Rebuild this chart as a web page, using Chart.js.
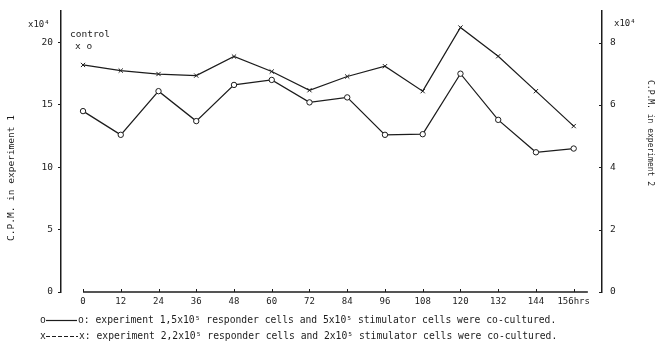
<!DOCTYPE html>
<html>
<head>
<meta charset="utf-8">
<script src="https://cdn.jsdelivr.net/npm/chart.js@4.4.0/dist/chart.umd.min.js"></script>
<style>
  html, body { margin: 0; padding: 0; background: #fff; }
  #wrap { width: 663px; height: 342px; position: relative; }
</style>
</head>
<body>
<div id="wrap"><canvas id="c" width="663" height="342"></canvas></div>
<script>
// ---- data ----
const hours = [0, 12, 24, 36, 48, 60, 72, 84, 96, 108, 120, 132, 144, 156];
const exp1 = [14.5, 12.6, 16.1, 13.7, 16.6, 17.0, 15.2, 15.6, 12.6, 12.65, 17.5, 13.8, 11.2, 11.5]; // x10^4, left axis
const exp2 = [7.28, 7.10, 6.99, 6.94, 7.55, 7.07, 6.47, 6.91, 7.24, 6.44, 8.48, 7.56, 6.44, 5.32]; // x10^4, right axis
const leftTicks = [0, 5, 10, 15, 20];
const rightTicks = [0, 2, 4, 6, 8];
const xTicks = [0, 12, 24, 36, 48, 60, 72, 84, 96, 108, 120, 132, 144, 156];
const leftTitle = 'C.P.M. in experiment 1';
const rightTitle = 'C.P.M. in experiment 2';
const legend1 = 'o: experiment 1,5x10\u2075 responder cells and 5x10\u2075 stimulator cells were co-cultured.';
const legend2 = 'x: experiment 2,2x10\u2075 responder cells and 2x10\u2075 stimulator cells were co-cultured.';

const INK = '#1c1c1c';
const MONO = '"DejaVu Sans Mono", "Liberation Mono", monospace';

const extras = {
  id: 'extras',
  afterDraw(chart) {
    const ctx = chart.ctx;
    const xs = chart.scales.x;
    const yr = chart.scales.y2;
    const y0 = chart.chartArea.bottom;
    const xr = chart.chartArea.right;
    ctx.save();
    ctx.strokeStyle = INK;
    ctx.fillStyle = INK;
    // x axis line (only over the data range) with small upward ticks
    ctx.lineWidth = 1.5;
    ctx.beginPath();
    ctx.moveTo(xs.getPixelForValue(0), y0);
    ctx.lineTo(xs.getPixelForValue(160.5), y0);
    ctx.stroke();
    ctx.lineWidth = 1;
    xTicks.forEach(v => {
      const px = Math.round(xs.getPixelForValue(v)) + 0.5;
      ctx.beginPath();
      ctx.moveTo(px, y0);
      ctx.lineTo(px, y0 - 3);
      ctx.stroke();
    });
    // right axis ticks pointing inward
    rightTicks.forEach(v => {
      const py = Math.round(yr.getPixelForValue(v)) + 0.5;
      ctx.beginPath();
      ctx.moveTo(xr, py);
      ctx.lineTo(xr - 3, py);
      ctx.stroke();
    });

    // multipliers
    ctx.font = '9px ' + MONO;
    ctx.textBaseline = 'middle';
    ctx.textAlign = 'left';
    ctx.fillText('x10\u2074', 28, 25);
    ctx.fillText('x10\u2074', 614, 24);
    // control annotation
    ctx.font = '9.5px ' + MONO;
    ctx.fillText('control', 70, 35);
    ctx.fillText('x o', 75, 47);

    // axis titles
    ctx.font = '9.5px ' + MONO;
    ctx.textAlign = 'center';
    ctx.save();
    ctx.translate(12, 178);
    ctx.rotate(-Math.PI / 2);
    ctx.fillText(leftTitle, 0, 0);
    ctx.restore();
    ctx.font = '8px ' + MONO;
    ctx.save();
    ctx.translate(650, 133);
    ctx.rotate(Math.PI / 2);
    ctx.fillText(rightTitle, 0, 0);
    ctx.restore();

    // legend lines
    ctx.font = '9.7px ' + MONO;
    ctx.textAlign = 'left';
    ctx.fillText('o', 40, 320);
    ctx.lineWidth = 1.2;
    ctx.beginPath();
    ctx.moveTo(46, 320.5);
    ctx.lineTo(77, 320.5);
    ctx.stroke();
    ctx.fillText(legend1, 78, 320);

    ctx.fillText('x', 40, 336);
    ctx.setLineDash([4, 2]);
    ctx.beginPath();
    ctx.moveTo(46, 336.5);
    ctx.lineTo(78, 336.5);
    ctx.stroke();
    ctx.setLineDash([]);
    ctx.fillText(legend2, 79, 336);
    ctx.restore();
  }
};

new Chart(document.getElementById('c'), {
  type: 'line',
  data: {
    datasets: [
      {
        label: 'experiment 1',
        data: hours.map((h, i) => ({ x: h, y: exp1[i] })),
        yAxisID: 'y',
        borderColor: INK,
        borderWidth: 1.25,
        pointStyle: 'circle',
        pointRadius: 2.7,
        pointBackgroundColor: '#fff',
        pointBorderColor: INK,
        pointBorderWidth: 1,
        tension: 0,
        fill: false
      },
      {
        label: 'experiment 2',
        data: hours.map((h, i) => ({ x: h, y: exp2[i] })),
        yAxisID: 'y2',
        borderColor: INK,
        borderWidth: 1.25,
        pointStyle: 'crossRot',
        pointRadius: 3,
        pointBorderColor: INK,
        pointBorderWidth: 1,
        tension: 0,
        fill: false
      }
    ]
  },
  options: {
    responsive: false,
    animation: false,
    events: [],
    layout: { padding: { top: 9, left: 0, right: 0, bottom: 0 } },
    plugins: { legend: { display: false }, tooltip: { enabled: false }, title: { display: false } },
    scales: {
      x: {
        type: 'linear',
        min: -7,
        max: 165,
        afterBuildTicks: s => { s.ticks = xTicks.map(v => ({ value: v })); },
        afterFit: s => { s.height = 50; },
        border: { display: false },
        grid: { display: false, drawTicks: false },
        ticks: {
          color: INK,
          font: { family: MONO, size: 9 },
          padding: 4,
          maxRotation: 0,
          autoSkip: false,
          callback: v => (v === 156 ? '156hrs' : String(v))
        }
      },
      y: {
        position: 'left',
        min: 0,
        max: 22.55,
        afterBuildTicks: s => { s.ticks = leftTicks.map(v => ({ value: v })); },
        afterFit: s => { s.width = 61; },
        border: { display: true, color: INK, width: 1.5 },
        grid: { drawOnChartArea: false, drawTicks: true, tickLength: 3, color: INK },
        ticks: { color: INK, font: { family: MONO, size: 9.5 }, padding: 5 }
      },
      y2: {
        position: 'right',
        min: 0,
        max: 9.02,
        afterBuildTicks: s => { s.ticks = rightTicks.map(v => ({ value: v })); },
        afterFit: s => { s.width = 61; },
        border: { display: true, color: INK, width: 1.5 },
        grid: { drawOnChartArea: false, drawTicks: true, tickLength: 3, color: 'rgba(0,0,0,0)' },
        ticks: { color: INK, font: { family: MONO, size: 9.5 }, padding: 5 }
      }
    }
  },
  plugins: [extras]
});
</script>
</body>
</html>
